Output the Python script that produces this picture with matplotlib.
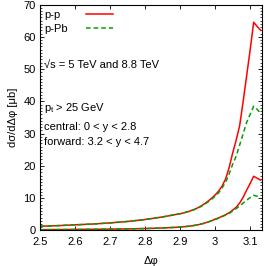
import matplotlib
matplotlib.use("Agg")
import matplotlib.pyplot as plt
from matplotlib.ticker import MultipleLocator

plt.rcParams['font.family'] = ['Liberation Sans', 'DejaVu Sans']
plt.rcParams['mathtext.fontset'] = 'custom'
plt.rcParams['mathtext.rm'] = 'Liberation Sans'
plt.rcParams['mathtext.it'] = 'Liberation Sans'

dphi = [2.5, 2.55, 2.6, 2.65, 2.7, 2.75, 2.8, 2.85, 2.9,
        2.91, 2.92, 2.93, 2.94, 2.95, 2.96, 2.97, 2.98, 2.99, 3.0,
        3.01, 3.02, 3.03, 3.04, 3.05, 3.06, 3.07, 3.08, 3.09, 3.10, 3.11, 3.12, 3.13]

central_pp = [1.3, 1.5, 1.75, 2.0, 2.35, 2.8, 3.4, 4.2, 5.2,
              5.45, 5.75, 6.1, 6.5, 7.0, 7.6, 8.3, 9.1, 10.0, 11.0,
              12.2, 13.8, 16.0, 19.5, 24.0, 28.0, 32.5, 40.0, 48.0, 56.0, 64.5, 63.2, 62.0]
central_ppb = [1.3, 1.5, 1.75, 2.0, 2.35, 2.8, 3.4, 4.2, 5.2,
               5.45, 5.75, 6.1, 6.45, 6.9, 7.45, 8.1, 8.85, 9.7, 10.6,
               11.7, 13.2, 15.0, 17.5, 20.5, 23.0, 26.5, 30.0, 33.5, 36.0, 38.5, 37.5, 36.3]
forward_pp = [0.25, 0.28, 0.32, 0.37, 0.43, 0.5, 0.6, 0.78, 1.05,
              1.15, 1.27, 1.4, 1.55, 1.75, 2.0, 2.3, 2.65, 3.05, 3.5,
              3.9, 4.4, 4.9, 5.5, 6.3, 7.2, 8.5, 10.3, 12.5, 14.6, 16.8, 16.2, 15.6]
forward_ppb = [0.25, 0.28, 0.32, 0.37, 0.43, 0.5, 0.6, 0.78, 1.05,
               1.15, 1.27, 1.4, 1.55, 1.75, 2.0, 2.28, 2.6, 3.0, 3.4,
               3.8, 4.3, 4.8, 5.3, 6.0, 6.8, 7.6, 8.5, 9.4, 10.2, 10.9, 10.6, 10.2]

labels = ['p-p', 'p-Pb']

fig = plt.figure(figsize=(2.65, 2.66), dpi=100)
ax = fig.add_axes([0.151, 0.1335, 0.838, 0.8495])

red = '#ff0000'
green = '#00a000'
dash = (0, (3, 2))
ax.plot(dphi, central_pp, color=red, lw=1.1)
ax.plot(dphi, central_ppb, color=green, lw=1.1, ls=dash)
ax.plot(dphi, forward_pp, color=red, lw=1.1)
ax.plot(dphi, forward_ppb, color=green, lw=1.1, ls=dash)

ax.set_xlim(2.5, 3.134)
ax.set_ylim(0, 70)
ax.yaxis.set_major_locator(MultipleLocator(10))
ax.yaxis.set_minor_locator(MultipleLocator(1))
ax.tick_params(direction='in', top=True, right=True, labelsize=8, length=3, width=0.6)
ax.tick_params(axis='x', pad=5)
ax.tick_params(axis='y', pad=3)
ax.tick_params(which='minor', direction='in', right=True, length=1.5, width=0.5)
ax.set_xticks([2.5, 2.6, 2.7, 2.8, 2.9, 3.0, 3.1])
ax.set_xticklabels(['2.5', '2.6', '2.7', '2.8', '2.9', '3', '3.1'])
for s in ax.spines.values():
    s.set_linewidth(0.8)

ax.set_xlabel('Δφ', fontsize=8, labelpad=6)
ax.set_ylabel('dσ/dΔφ [μb]', fontsize=8, labelpad=4)

# legend (text left, sample line right, gnuplot style)
leg_y = [0.955, 0.892]
leg_styles = [dict(color=red, lw=1.1), dict(color=green, lw=1.1, ls=dash)]
for lab, yy, st in zip(labels, leg_y, leg_styles):
    ax.text(0.018, yy, lab, transform=ax.transAxes, fontsize=8, va='center', ha='left')
    ax.plot([0.205, 0.33], [yy + 0.004, yy + 0.004], transform=ax.transAxes, **st)

ax.text(0.018, 0.735, '√s = 5 TeV and 8.8 TeV', transform=ax.transAxes,
        fontsize=8, va='center', ha='left')
ax.text(0.018, 0.54, r'p$_\mathrm{t}$ > 25 GeV', transform=ax.transAxes,
        fontsize=8, va='center', ha='left')
ax.text(0.018, 0.46, 'central: 0 < y < 2.8', transform=ax.transAxes,
        fontsize=8, va='center', ha='left')
ax.text(0.018, 0.39, 'forward: 3.2 < y < 4.7', transform=ax.transAxes,
        fontsize=8, va='center', ha='left')

fig.savefig('out.png', dpi=100)
